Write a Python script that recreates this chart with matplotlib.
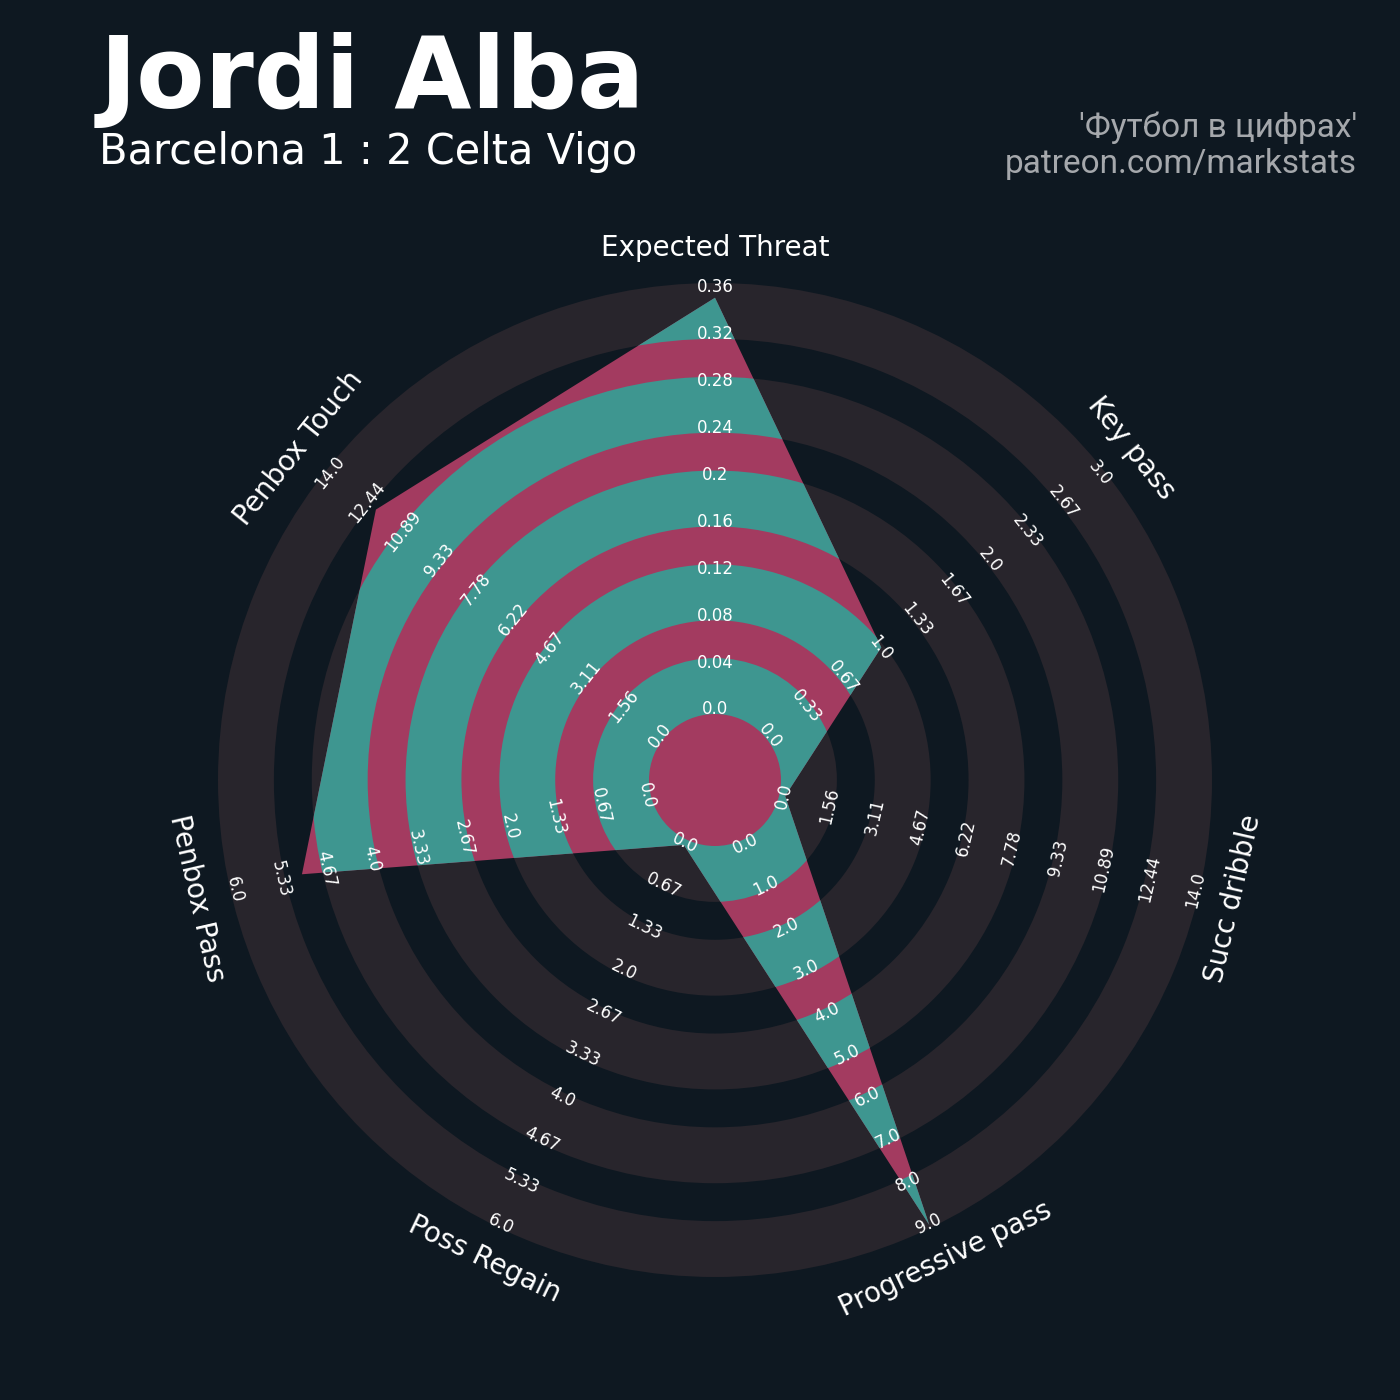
import numpy as np
import matplotlib
matplotlib.use("Agg")
import matplotlib.pyplot as plt
from matplotlib.patches import Wedge, Polygon

# radar data
params = ["Expected Threat", "Key pass", "Succ dribble", "Progressive pass",
          "Poss Regain", "Penbox Pass", "Penbox Touch"]
values = [0.35, 1.0, 0.0, 9.0, 0.0, 5.0, 12.0]
range_low = [0.0, 0.0, 0.0, 0.0, 0.0, 0.0, 0.0]
range_high = [0.36, 3.0, 14.0, 9.0, 6.0, 6.0, 14.0]

title = "Jordi Alba"
subtitle = "Barcelona 1 : 2 Celta Vigo"
credit = "'Футбол в цифрах'\npatreon.com/markstats"

BG = "#0e1821"
RING = "#28252c"
PINK = "#a33b60"
TEAL = "#3e9690"

R0, R1 = 72, 494   # radius of low / high end of every axis
N_STEPS = 10


def radius(v, lo, hi):
    return R0 + (v - lo) / (hi - lo) * (R1 - R0)


def text_rot(theta_deg):
    rot = -theta_deg
    while rot <= -90:
        rot += 180
    while rot > 90:
        rot -= 180
    return rot


fig = plt.figure(figsize=(14, 14), dpi=100, facecolor=BG)
ax = fig.add_axes([0, 0, 1, 1])
ax.set_facecolor(BG)
ax.set_xlim(-715, 685)
ax.set_ylim(-620, 780)
ax.set_aspect("equal")
ax.axis("off")

n = len(params)
thetas = np.arange(n) * 360.0 / n
rads = np.deg2rad(thetas)

# rings: wide grey bands with thinner gaps
ring_r = [R0 + k * (R1 - R0) / (N_STEPS - 1) for k in range(N_STEPS)]
rings = []
for j in range(0, N_STEPS, 2):
    r_in = ring_r[j] - 6
    r_out = ring_r[j + 1] + 3
    w = Wedge((0, 0), r_out, 0, 360, width=r_out - r_in, facecolor=RING,
              edgecolor="none", zorder=1)
    ax.add_patch(w)
    rings.append(w)

# player polygon, pink in the gaps and teal on the grey bands
r_vals = [radius(v, lo, hi) for v, lo, hi in zip(values, range_low, range_high)]
pts = np.column_stack([np.array(r_vals) * np.sin(rads), np.array(r_vals) * np.cos(rads)])
ax.add_patch(Polygon(pts, closed=True, facecolor=PINK, edgecolor="none", zorder=2))
for w in rings:
    p = Polygon(pts, closed=True, facecolor=TEAL, edgecolor="none", zorder=3)
    ax.add_patch(p)
    p.set_clip_path(w)

# range labels along every axis
for i in range(n):
    steps = np.linspace(range_low[i], range_high[i], N_STEPS)
    rot = text_rot(thetas[i])
    for v in steps:
        r = radius(v, range_low[i], range_high[i]) - 1.5
        ax.text(r * np.sin(rads[i]), r * np.cos(rads[i]), str(round(float(v), 2)),
                color="white", fontsize=12, ha="center", va="center",
                rotation=rot, rotation_mode="anchor", zorder=5)
    rp = 532
    ax.text(rp * np.sin(rads[i]), rp * np.cos(rads[i]), params[i],
            color="white", fontsize=20, ha="center", va="center",
            rotation=rot, rotation_mode="anchor", zorder=5)

fig.text(100 / 1400, 1 - 108 / 1400, title, color="white", fontsize=71.8,
         fontweight="bold", ha="left", va="baseline")
fig.text(99 / 1400, 1 - 164 / 1400, subtitle, color="white", fontsize=29.9,
         ha="left", va="baseline")
fig.text(1357 / 1400, 1 - 173 / 1400, credit, color="#a5a8ac", fontsize=24,
         family="Roboto", ha="right", va="baseline", linespacing=1.17,
         multialignment="right")

fig.savefig("out.png", dpi=100, facecolor=BG)
